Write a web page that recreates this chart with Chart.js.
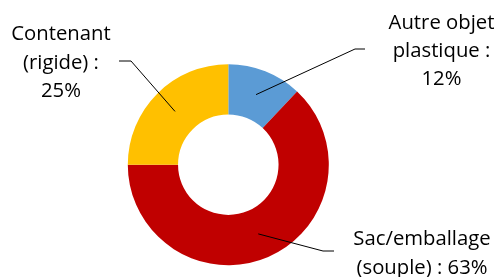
<!DOCTYPE html>
<html><head><meta charset="utf-8">
<script src="https://cdn.jsdelivr.net/npm/chart.js@4/dist/chart.umd.min.js"></script>
<style>html,body{margin:0;padding:0;background:#fff;}#wrap{width:499px;height:277px;position:relative;}</style>
</head><body><div id="wrap"><canvas id="c" width="499" height="277"></canvas></div>
<script>
const categories = ["Autre objet plastique", "Sac/emballage (souple)", "Contenant (rigide)"];
const values = [12, 63, 25];
const labelLines = [["Autre objet", "plastique :", "12%"], ["Sac/emballage", "(souple) : 63%"], ["Contenant", "(rigide) :", "25%"]];
const colors = ["#5B9BD5", "#C00000", "#FFC000"];

// label layout (positions of text blocks and leader elbows)
const labelLayout = [
  {tx: 441.5, ty: 28.5, elbow: [355, 49], end: [365, 49]},
  {tx: 422, ty: 245.3, elbow: [323, 251], end: [334, 251]},
  {tx: 61, ty: 40.3, elbow: [131, 61], end: [119, 61]}
];
const lineH = 28.3;

const leaderPlugin = {
  id: 'leaders',
  afterDatasetsDraw(chart) {
    const ctx = chart.ctx;
    const meta = chart.getDatasetMeta(0);
    ctx.save();
    meta.data.forEach((arc, i) => {
      const p = arc.getProps(['x','y','startAngle','endAngle','innerRadius','outerRadius'], true);
      const mid = (p.startAngle + p.endAngle) / 2;
      const r = (p.innerRadius + p.outerRadius) / 2;
      const ax = p.x + Math.cos(mid) * r, ay = p.y + Math.sin(mid) * r;
      const L = labelLayout[i];
      ctx.strokeStyle = '#000';
      ctx.lineWidth = 1;
      ctx.beginPath();
      ctx.moveTo(ax, ay);
      ctx.lineTo(L.elbow[0], L.elbow[1]);
      ctx.lineTo(L.end[0], L.end[1]);
      ctx.stroke();
      ctx.fillStyle = '#000';
      ctx.font = '20.3px "Open Sans"';
      ctx.textAlign = 'center';
      ctx.textBaseline = 'alphabetic';
      labelLines[i].forEach((t, k) => ctx.fillText(t, L.tx, L.ty + k * lineH));
    });
    ctx.restore();
  }
};

new Chart(document.getElementById('c'), {
  type: 'doughnut',
  data: { labels: categories, datasets: [{ data: values, backgroundColor: colors, borderWidth: 0, hoverOffset: 0 }] },
  options: {
    responsive: false, animation: false, cutout: '50%',
    layout: { padding: { top: 64.2, bottom: 11.8, left: 127.8, right: 170.2 } },
    plugins: { legend: { display: false }, tooltip: { enabled: false } }
  },
  plugins: [leaderPlugin]
});
</script></body></html>
